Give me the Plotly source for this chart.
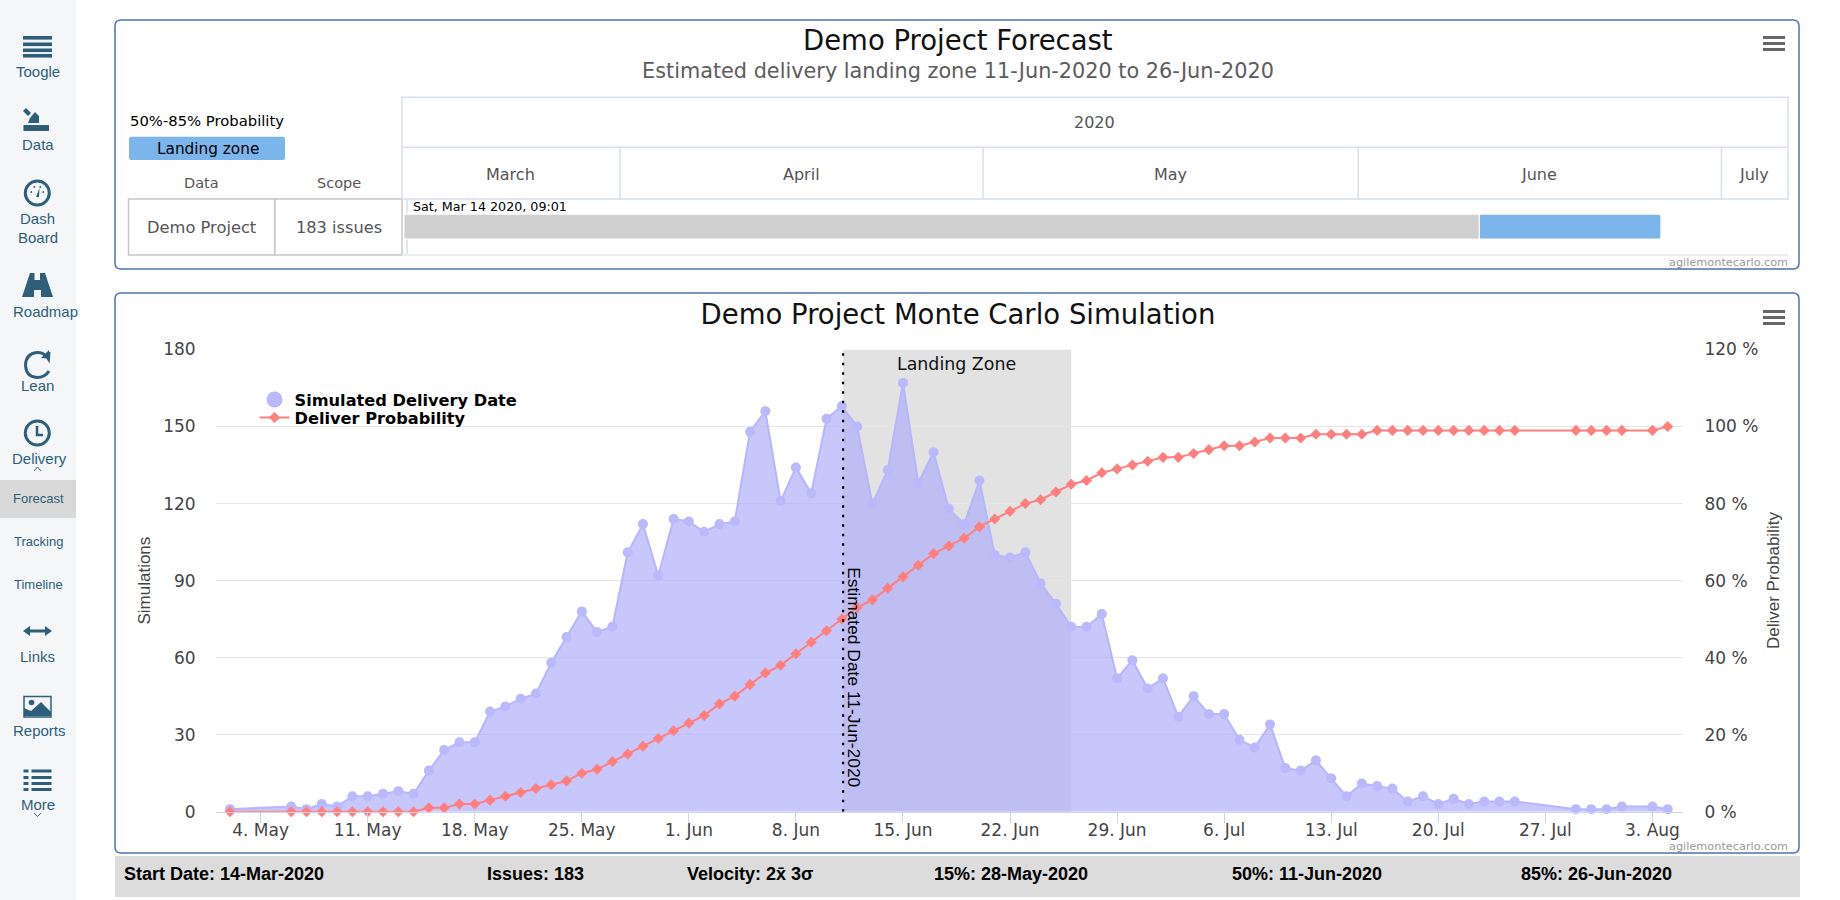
import re
import datetime as dt
import plotly.graph_objects as go

# ---------- data ----------
sim_dates = [
    "2020-05-02", "2020-05-06", "2020-05-07", "2020-05-08", "2020-05-09", "2020-05-10", "2020-05-11",
    "2020-05-12", "2020-05-13", "2020-05-14", "2020-05-15", "2020-05-16", "2020-05-17", "2020-05-18",
    "2020-05-19", "2020-05-20", "2020-05-21", "2020-05-22", "2020-05-23", "2020-05-24", "2020-05-25",
    "2020-05-26", "2020-05-27", "2020-05-28", "2020-05-29", "2020-05-30", "2020-05-31", "2020-06-01",
    "2020-06-02", "2020-06-03", "2020-06-04", "2020-06-05", "2020-06-06", "2020-06-07", "2020-06-08",
    "2020-06-09", "2020-06-10", "2020-06-11", "2020-06-12", "2020-06-13", "2020-06-14", "2020-06-15",
    "2020-06-16", "2020-06-17", "2020-06-18", "2020-06-19", "2020-06-20", "2020-06-21", "2020-06-22",
    "2020-06-23", "2020-06-24", "2020-06-25", "2020-06-26", "2020-06-27", "2020-06-28", "2020-06-29",
    "2020-06-30", "2020-07-01", "2020-07-02", "2020-07-03", "2020-07-04", "2020-07-05", "2020-07-06",
    "2020-07-07", "2020-07-08", "2020-07-09", "2020-07-10", "2020-07-11", "2020-07-12", "2020-07-13",
    "2020-07-14", "2020-07-15", "2020-07-16", "2020-07-17", "2020-07-18", "2020-07-19", "2020-07-20",
    "2020-07-21", "2020-07-22", "2020-07-23", "2020-07-24", "2020-07-25", "2020-07-29", "2020-07-30",
    "2020-07-31", "2020-08-01", "2020-08-03", "2020-08-04",
]
simulations = [
    1, 2, 1, 3, 2, 6, 6, 7, 8, 7, 16, 24, 27, 27, 39, 41, 44, 46, 58, 68, 78, 70, 72, 101, 112, 92, 114,
    113, 109, 112, 113, 148, 156, 121, 134, 124, 153, 158, 150, 120, 133, 167, 128, 140, 118, 112, 129,
    100, 99, 101, 89, 81, 72, 72, 77, 52, 59, 48, 52, 37, 45, 38, 38, 28, 25, 34, 17, 16, 20, 13, 6, 11,
    10, 9, 4, 6, 3, 5, 3, 4, 4, 4, 1, 1, 1, 2, 2, 1,
]
probability = [
    0, 0, 0, 0, 0, 0, 0, 0, 0, 0, 1, 1, 2, 2, 3, 4, 5, 6, 7, 8, 10, 11, 13, 15, 17, 19, 21, 23, 25, 28,
    30, 33, 36, 38, 41, 44, 47, 50, 53, 55, 58, 61, 64, 67, 69, 71, 74, 76, 78, 80, 81, 83, 85, 86, 88,
    89, 90, 91, 92, 92, 93, 94, 95, 95, 96, 97, 97, 97, 98, 98, 98, 98, 99, 99, 99, 99, 99, 99, 99, 99,
    99, 99, 99, 99, 99, 99, 99, 100,
]
x_tick_dates = ["2020-05-04", "2020-05-11", "2020-05-18", "2020-05-25", "2020-06-01", "2020-06-08", "2020-06-15",
                "2020-06-22", "2020-06-29", "2020-07-06", "2020-07-13", "2020-07-20", "2020-07-27", "2020-08-03"]
x_tick_labels = ["4. May", "11. May", "18. May", "25. May", "1. Jun", "8. Jun", "15. Jun",
                 "22. Jun", "29. Jun", "6. Jul", "13. Jul", "20. Jul", "27. Jul", "3. Aug"]
left_ticks = [0, 30, 60, 90, 120, 150, 180]
right_ticks = [0, 20, 40, 60, 80, 100, 120]
right_tick_labels = ["0 %", "20 %", "40 %", "60 %", "80 %", "100 %", "120 %"]
estimated_date = "2020-06-11 02:00"
landing_end = "2020-06-26"

gantt_starts = ["2020-03-14 04:00", "2020-06-11 00:00"]
gantt_ends = ["2020-06-11 00:00", "2020-06-26 00:00"]
gantt_colors = ["#d0d0d0", "#7cb5ec"]
month_names = ["March", "April", "May", "June", "July"]
month_starts = ["2020-04-01", "2020-05-01", "2020-06-01", "2020-07-01"]
footer_items = ["Start Date: 14-Mar-2020", "Issues: 183", "Velocity: 2x̄ 3σ",
                "15%: 28-May-2020", "50%: 11-Jun-2020", "85%: 26-Jun-2020"]
nav_items = ["Toogle", "Data", "Dash", "Board", "Roadmap", "Lean", "Delivery", "Forecast",
             "Tracking", "Timeline", "Links", "Reports", "More"]

# ---------- helpers (page pixels -> paper fractions) ----------
W, H = 1840, 900
SANS = "DejaVu Sans"
ARIAL = "Liberation Sans"
NARROW = "Liberation Sans Narrow, Liberation Sans"
NAVY = "#2f5f78"
shapes, annotations = [], []


def X(v):
    return v / W


def Y(v):
    return 1 - v / H


def px_path(d):
    toks = re.findall(r"[A-Za-z]|-?\d+\.?\d*", d)
    out, is_x = [], True
    for t in toks:
        if t.isalpha():
            out.append(t)
            is_x = True
        else:
            out.append(f"{X(float(t)):.5f}" if is_x else f"{Y(float(t)):.5f}")
            is_x = not is_x
    return " ".join(out)


def path(d, fill=None, line=None, width=0, layer="below"):
    shapes.append(dict(type="path", xref="paper", yref="paper", path=px_path(d), layer=layer,
                       fillcolor=fill if fill else "rgba(0,0,0,0)",
                       line=dict(color=line if line else "rgba(0,0,0,0)", width=width)))


def rect(x0, y0, x1, y1, fill=None, line=None, width=0, layer="below"):
    shapes.append(dict(type="rect", xref="paper", yref="paper", x0=X(x0), x1=X(x1), y0=Y(y0), y1=Y(y1), layer=layer,
                       fillcolor=fill if fill else "rgba(0,0,0,0)",
                       line=dict(color=line if line else "rgba(0,0,0,0)", width=width)))


def circle(cx, cy, r, fill=None, line=None, width=0):
    shapes.append(dict(type="circle", xref="paper", yref="paper", x0=X(cx - r), x1=X(cx + r), y0=Y(cy + r), y1=Y(cy - r),
                       layer="below", fillcolor=fill if fill else "rgba(0,0,0,0)",
                       line=dict(color=line if line else "rgba(0,0,0,0)", width=width)))


def seg(x0, y0, x1, y1, color, width=1):
    shapes.append(dict(type="line", xref="paper", yref="paper", x0=X(x0), x1=X(x1), y0=Y(y0), y1=Y(y1),
                       layer="below", line=dict(color=color, width=width)))


def text(x, y, s, size, color="#333333", family=SANS, anchor="center", angle=0, bold=False):
    annotations.append(dict(xref="paper", yref="paper", x=X(x), y=Y(y), text=f"<b>{s}</b>" if bold else s,
                            showarrow=False, xanchor=anchor, yanchor="middle", textangle=angle,
                            font=dict(size=size, color=color, family=family)))


def card(x0, y0, x1, y1, r=6):
    path(f"M {x0+r} {y0} L {x1-r} {y0} Q {x1} {y0} {x1} {y0+r} L {x1} {y1-r} Q {x1} {y1} {x1-r} {y1} "
         f"L {x0+r} {y1} Q {x0} {y1} {x0} {y1-r} L {x0} {y0+r} Q {x0} {y0} {x0+r} {y0} Z",
         line="#4d72b8", width=1.5)


def burger(x0, x1, y0):
    for k in range(3):
        rect(x0, y0 + k * 6, x1, y0 + k * 6 + 3, fill="#666666")


# ---------- sidebar ----------
rect(0, 0, 76, 900, fill="#f4f6f8")
rect(0, 480, 76, 518, fill="#d9d9d9")
for label, xx, yy, size in zip(nav_items,
                               [37.5, 37.5, 37.5, 37.5, 45, 37.5, 39, 38, 38, 38, 37.5, 39, 37.5],
                               [72, 145, 218.5, 237.5, 311, 385, 458.5, 498.5, 541.5, 584, 656.5, 730, 804],
                               [15, 15, 15, 15, 15, 15, 15, 13, 13, 13, 15, 15, 15]):
    text(xx, yy, label, size, NAVY, ARIAL)
for k in [36, 42.5, 48.5, 54]:
    rect(23, k, 52, k + 3.6, fill=NAVY)
# data icon
rect(23.5, 125, 49, 131, fill=NAVY)
path("M 23 111 L 26 108 L 31 113 L 28 116 Z", fill=NAVY)
path("M 30 118 L 35 112 L 39 116 L 39 112 L 39 123 L 28 123 Z", fill=NAVY)
# dashboard icon
circle(37.3, 193, 12, line=NAVY, width=3)
path("M 36 197 L 39.5 188 L 39 197 Z", fill=NAVY)
for dx, dy in [(-6, -1), (-3, -6), (3, -6), (6, -1)]:
    circle(37.3 + dx, 193 + dy, 0.9, fill=NAVY)
# roadmap icon
path("M 22 297 L 30 273 L 34.5 273 L 34.5 280 L 40 280 L 40 273 L 45 273 L 53 297 L 41 297 L 41 290 L 34 290 L 34 297 Z",
     fill=NAVY)
# lean icon
path("M 49 352 L 48.5 359 Q 44 352 37 352.5 Q 26 353.5 25.5 365 Q 26 377 37 377.5 Q 45 377.5 49 371",
     line=NAVY, width=3)
path("M 41 358 L 49 350 L 49.5 358.5 Z", fill=NAVY)
# delivery clock
circle(37.3, 433, 12, line=NAVY, width=3)
path("M 37 426 L 37 435 L 43 435", line=NAVY, width=2.5)
path("M 34 471 L 37.5 467 L 41 471", line=NAVY, width=1)
# links icon
path("M 23 631 L 30 626 L 30 629.5 L 45 629.5 L 45 626 L 52 631 L 45 636 L 45 632.5 L 30 632.5 L 30 636 Z", fill=NAVY)
# reports icon
rect(24, 696.5, 51, 717, line=NAVY, width=1.5)
path("M 24 716 L 24 708 L 31 711 L 41 702 L 51 712 L 51 716 Z", fill=NAVY)
circle(31.5, 702.5, 2.8, fill=NAVY)
# more icon
for k in [769.5, 776, 782, 788]:
    rect(23.5, k, 28.5, k + 3, fill=NAVY)
    rect(31.5, k, 51.5, k + 3, fill=NAVY)
path("M 34 813 L 37.5 816.5 L 41 813", line=NAVY, width=1)

# ---------- cards ----------
card(115, 20, 1799, 269)
card(115, 293, 1799, 853)
rect(115, 856, 1800, 897, fill="#dcdcdc")
burger(1763, 1785, 36)
burger(1763, 1785, 310)
text(1789.5, 262, "agilemontecarlo.com", 11.3, "#999999", SANS, "right")
text(1789.5, 846, "agilemontecarlo.com", 11.3, "#999999", SANS, "right")
for label, xx in zip(footer_items, [122, 485, 685, 932, 1230, 1519]):
    text(xx, 874, label, 18, "#000000", ARIAL, "left", bold=True)

# ---------- forecast header ----------
text(958, 40, "Demo Project Forecast", 27.5, "#111111")
text(958, 71.5, "Estimated delivery landing zone 11-Jun-2020 to 26-Jun-2020", 20.8, "#5c5c5c")
text(128, 120.5, "50%-85% Probability", 14.8, "#000000", anchor="left")
path("M 131 136.7 L 283 136.7 Q 285 136.7 285 139 L 285 158 Q 285 160 283 160 L 131 160 Q 129 160 129 158 L 129 139 Q 129 136.7 131 136.7 Z",
     fill="#7cb5ec")
text(208, 148.5, "Landing zone", 15.3, "#000000")
text(201.6, 183, "Data", 14.5, "#555555")
text(338.7, 183, "Scope", 14.5, "#555555")
rect(128.5, 199, 274.7, 255, line="#c8c8c8", width=1.5)
rect(274.7, 199, 402, 255, line="#c8c8c8", width=1.5)
text(201.6, 227, "Demo Project", 16.3, "#555555")
text(338.7, 227, "183 issues", 16.2, "#555555")
GRID = "#d8e0ee"
rect(402, 97.3, 1788, 199, line=GRID, width=1.5)
seg(402, 147.3, 1788, 147.3, GRID, 1.5)
seg(407, 199, 407, 255, GRID, 1.5)
text(1094, 122.7, "2020", 16, "#555555")
for m, xx in zip(month_names, [510, 801, 1170.6, 1539, 1753.6]):
    text(xx, 174, m, 16, "#555555")
text(410.5, 206.7, "Sat, Mar 14 2020, 09:01", 12.7, "#000000", anchor="left")

# ---------- chart furniture ----------
shapes.append(dict(type="rect", xref="x", yref="y", x0=estimated_date, x1=landing_end, y0=0, y1=180,
                   layer="below", fillcolor="#e2e2e2", line=dict(width=0)))
shapes.append(dict(type="line", xref="x", yref="y", x0=estimated_date, x1=estimated_date, y0=0, y1=180,
                   layer="above", line=dict(color="#000000", width=2.2, dash="2.5px,7px")))
annotations.append(dict(xref="x", yref="y", x="2020-06-18 12:00", y=174.5, text="Landing Zone", showarrow=False,
                        font=dict(size=17.4, color="#111111", family=SANS)))
text(854.5, 676.7, "Estimated Date 11-Jun-2020", 17.4, "#000000", NARROW, angle=90)

for m in month_starts:
    shapes.append(dict(type="line", xref="x3", yref="paper", x0=m, x1=m, y0=Y(147.3), y1=Y(199),
                       layer="below", line=dict(color=GRID, width=1.5)))

# ---------- figure ----------
fig = go.Figure()
fig.add_trace(go.Scatter(x=sim_dates, y=simulations, name="Simulated Delivery Date", mode="lines+markers",
                         fill="tozeroy", fillcolor="rgba(175,175,250,0.70)", showlegend=False, cliponaxis=False,
                         line=dict(color="#b6b6fb", width=2), marker=dict(color="#b9b9fb", size=10), yaxis="y"))
fig.add_trace(go.Scatter(x=sim_dates, y=probability, name="Deliver Probability", mode="lines+markers", showlegend=False,
                         cliponaxis=False,
                         line=dict(color="#ff7f7f", width=2), marker=dict(color="#ff7f7f", size=8.5, symbol="diamond"),
                         yaxis="y2"))
fig.add_trace(go.Scatter(x=[None], y=[None], name="Simulated Delivery Date", mode="markers", legend="legend",
                         marker=dict(color="#b9b9fb", size=17), yaxis="y", showlegend=True))
fig.add_trace(go.Scatter(x=[None], y=[None], name="Deliver Probability", mode="lines+markers", legend="legend2",
                         line=dict(color="#ff7f7f", width=2), marker=dict(color="#ff7f7f", size=8.5, symbol="diamond"),
                         yaxis="y2", showlegend=True))


def parse(s):
    return dt.datetime.strptime(s, "%Y-%m-%d %H:%M")


for s, e, c, n in zip(gantt_starts, gantt_ends, gantt_colors, ["Elapsed", "Landing zone"]):
    fig.add_trace(go.Bar(y=[0], base=[s], x=[(parse(e) - parse(s)).total_seconds() * 1000], orientation="h",
                         width=0.45, marker=dict(color=c, cornerradius=2, line=dict(width=1, color="#ffffff")),
                         xaxis="x3", yaxis="y3", showlegend=False, name=n))

axis_font = dict(size=17, color="#444444", family=SANS)
legend_font = dict(size=16.2, color="#000000", family=SANS, weight="bold")
fig.update_layout(
    template="none",
    width=W, height=H, margin=dict(l=0, r=0, t=0, b=0, pad=0), paper_bgcolor="#ffffff", plot_bgcolor="rgba(0,0,0,0)",
    autosize=False, barmode="overlay", hovermode="closest",
    title=dict(text="Demo Project Monte Carlo Simulation", x=X(958), y=Y(314.5), xanchor="center", yanchor="middle",
               font=dict(size=27.5, color="#111111", family=SANS)),
    xaxis=dict(domain=[X(216), X(1683)], type="date", range=["2020-05-01 02:00", "2020-08-05 00:00"],
               anchor="y", tickvals=x_tick_dates, ticktext=x_tick_labels, tickfont=axis_font, automargin=False,
               ticks="outside", ticklen=10, tickcolor="#ccd6eb", showgrid=False, showline=True,
               linecolor="#ccd6eb", linewidth=1, zeroline=False, ticklabelstandoff=-7),
    yaxis=dict(domain=[Y(811.7), Y(349.5)], range=[0, 180], tickvals=left_ticks, tickfont=axis_font, automargin=False,
               gridcolor="#e6e6e6", gridwidth=1, showgrid=True, zeroline=False, showline=False,
               ticks="outside", ticklen=16, tickcolor="rgba(0,0,0,0)",
               title=dict(text="Simulations", font=dict(size=17, color="#444444", family=NARROW), standoff=8)),
    yaxis2=dict(overlaying="y", side="right", range=[0, 120], tickvals=right_ticks, ticktext=right_tick_labels,
                tickfont=axis_font, showgrid=False, zeroline=False, showline=False, automargin=False,
                ticks="outside", ticklen=17, tickcolor="rgba(0,0,0,0)",
                title=dict(text="Deliver Probability", font=dict(size=17, color="#444444", family=NARROW), standoff=9)),
    xaxis3=dict(domain=[X(402), X(1788)], type="date", range=["2020-03-14 00:00", "2020-07-06 12:00"],
                anchor="y3", showticklabels=False, ticks="", showgrid=False, zeroline=False, automargin=False,
                showline=True, linecolor="#eeeeee", linewidth=1.5),
    yaxis3=dict(domain=[Y(254.3), Y(199)], range=[-0.5, 0.5], anchor="x3", showticklabels=False, ticks="",
                showgrid=False, zeroline=False, automargin=False),
    legend=dict(x=X(254.5), y=Y(382.5), xanchor="left", yanchor="top", bgcolor="rgba(0,0,0,0)", itemsizing="trace",
                font=legend_font),
    legend2=dict(x=X(254.5), y=Y(400.5), xanchor="left", yanchor="top", bgcolor="rgba(0,0,0,0)", itemsizing="trace",
                 font=legend_font),
    shapes=shapes, annotations=annotations,
)

fig.write_html("out.html", config=dict(displayModeBar=False),
               post_script="document.body.style.margin='0';document.body.style.overflow='hidden';")
